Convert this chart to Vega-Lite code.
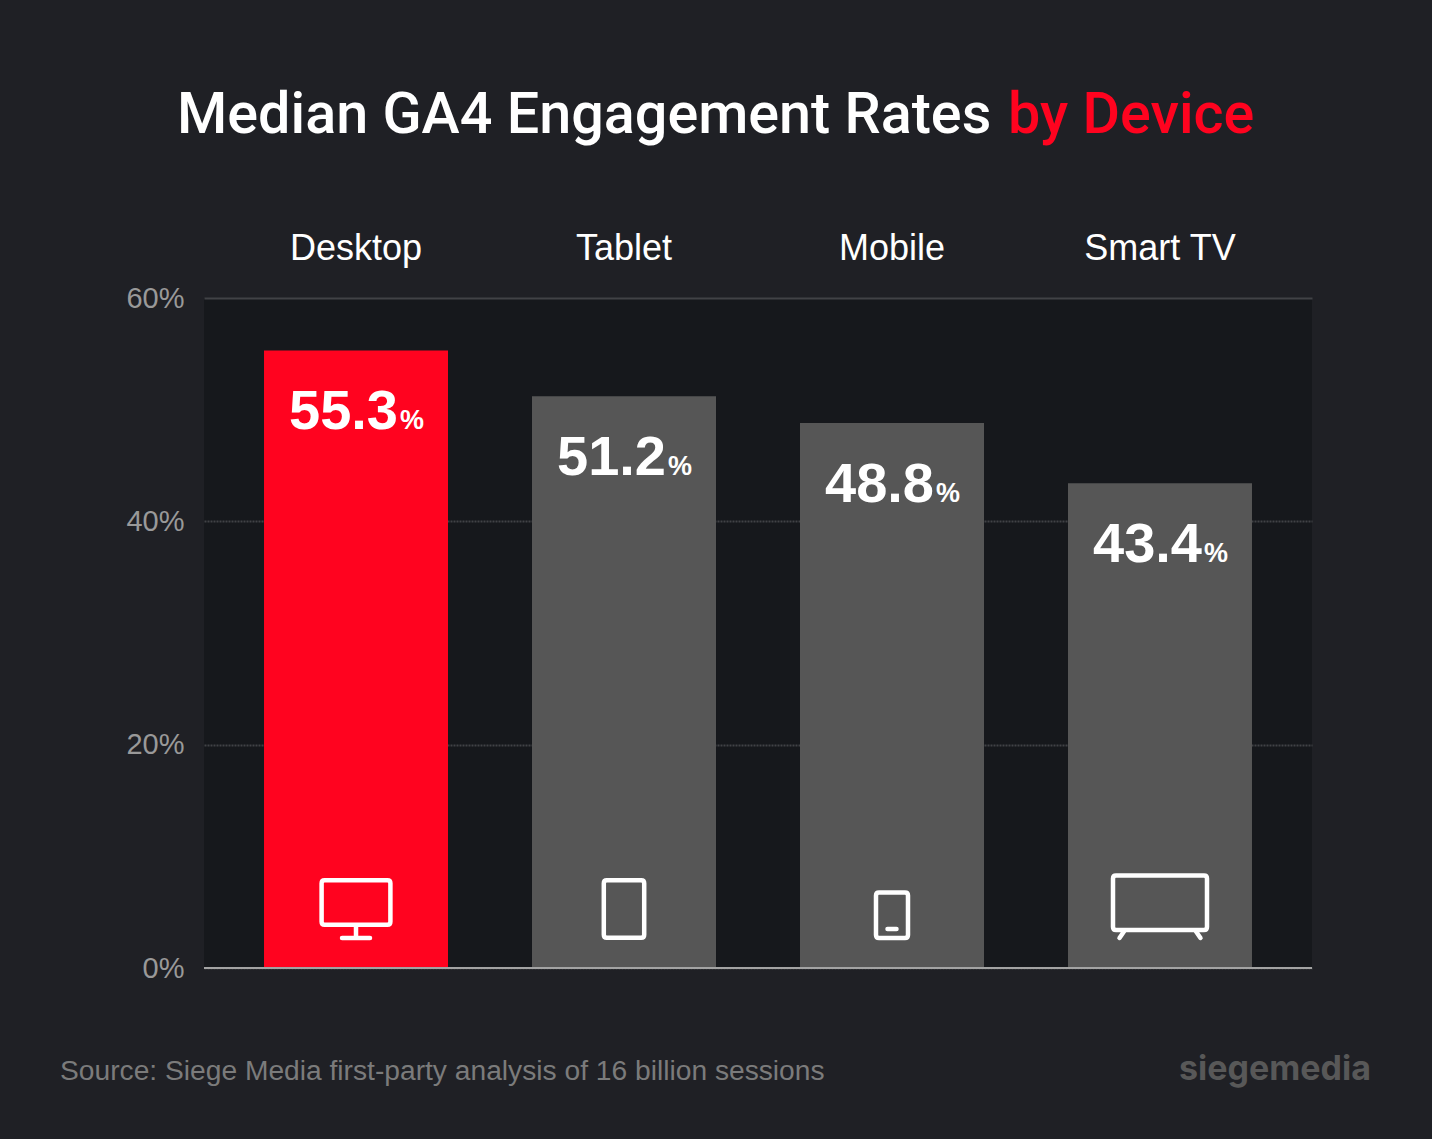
{
  "$schema": "https://vega.github.io/schema/vega-lite/v6.json",
  "width": 1108,
  "height": 670,
  "autosize": {"type": "none"},
  "padding": {"left": 204, "top": 298, "right": 120, "bottom": 171},
  "background": "#1f2025",
  "view": {"fill": "#16181c", "stroke": null},
  "config": {"font": "Liberation Sans"},
  "datasets": {
    "devices": [
      {"device": "Desktop", "rate": 55.3, "label": "55.3", "unit": "%"},
      {"device": "Tablet", "rate": 51.2, "label": "51.2", "unit": "%"},
      {"device": "Mobile", "rate": 48.8, "label": "48.8", "unit": "%"},
      {"device": "Smart TV", "rate": 43.4, "label": "43.4", "unit": "%"}
    ]
  },
  "layer": [
    {
      "data": {"name": "devices"},
      "mark": {"type": "bar"},
      "encoding": {
        "x": {
          "field": "device",
          "type": "nominal",
          "sort": null,
          "title": null,
          "scale": {"domain": ["Desktop", "Tablet", "Mobile", "Smart TV"], "paddingInner": 0.3134, "paddingOuter": 0.2239},
          "axis": {"orient": "top", "domain": false, "ticks": false, "labelAngle": 0, "labelFontSize": 36, "labelColor": "#ffffff", "labelPadding": 31, "labelFont": "Liberation Sans"}
        },
        "y": {
          "field": "rate",
          "type": "quantitative",
          "title": null,
          "scale": {"domain": [0, 60], "nice": false},
          "axis": {
            "values": [0, 20, 40, 60],
            "labelExpr": "datum.value + '%'",
            "domain": false,
            "ticks": false,
            "labelFontSize": 29,
            "labelColor": "#999999",
            "labelPadding": 20,
            "grid": true,
            "gridColor": "#414246",
            "gridDash": {"condition": {"test": "datum.value == 60", "value": []}, "value": [2, 1]},
            "gridWidth": 2
          }
        },
        "color": {
          "field": "device",
          "type": "nominal",
          "legend": null,
          "scale": {"domain": ["Desktop", "Tablet", "Mobile", "Smart TV"], "range": ["#ff031f", "#565656", "#565656", "#565656"]}
        }
      }
    },
    {
      "data": {"values": [{"zero": 0}]},
      "mark": {"type": "rule", "color": "#a3a3a3", "strokeWidth": 2},
      "encoding": {"y": {"field": "zero", "type": "quantitative", "title": null}}
    },
    {
      "data": {"name": "devices"},
      "mark": {"type": "text", "font": "Liberation Sans", "fontWeight": "bold", "fontSize": 56, "color": "#ffffff", "align": "right", "baseline": "alphabetic", "dx": 42, "dy": 79},
      "encoding": {
        "x": {"field": "device", "type": "nominal", "sort": null, "title": null},
        "y": {"field": "rate", "type": "quantitative", "title": null},
        "text": {"field": "label"}
      }
    },
    {
      "data": {"name": "devices"},
      "mark": {"type": "text", "font": "Liberation Sans", "fontWeight": "bold", "fontSize": 27, "color": "#ffffff", "align": "left", "baseline": "alphabetic", "dx": 44, "dy": 79},
      "encoding": {
        "x": {"field": "device", "type": "nominal", "sort": null, "title": null},
        "y": {"field": "rate", "type": "quantitative", "title": null},
        "text": {"field": "unit"}
      }
    },
    {
      "data": {"name": "devices"},
      "mark": {"type": "point", "filled": false, "size": 4, "strokeWidth": 4.5, "opacity": 1, "color": "#ffffff", "strokeCap": "round"},
      "encoding": {
        "x": {"field": "device", "type": "nominal", "sort": null, "title": null},
        "y": {"datum": 0, "title": null},
        "shape": {
          "field": "device",
          "type": "nominal",
          "legend": null,
          "scale": {
            "domain": ["Desktop", "Tablet", "Mobile", "Smart TV"],
            "range": [
              "M-31.4,-87.7H31.4Q34.4,-87.7 34.4,-84.7V-46.3Q34.4,-43.3 31.4,-43.3H-31.4Q-34.4,-43.3 -34.4,-46.3V-84.7Q-34.4,-87.7 -31.4,-87.7ZM0,-43.3V-30M-14,-30H14",
              "M-17.2,-87.7H17.2Q20.2,-87.7 20.2,-84.7V-33.3Q20.2,-30.3 17.2,-30.3H-17.2Q-20.2,-30.3 -20.2,-33.3V-84.7Q-20.2,-87.7 -17.2,-87.7Z",
              "M-13,-75.4H13Q16,-75.4 16,-72.4V-33Q16,-30 13,-30H-13Q-16,-30 -16,-33V-72.4Q-16,-75.4 -13,-75.4ZM-4.5,-39H4.5",
              "M-44,-92.4H44Q47,-92.4 47,-89.4V-41Q47,-38 44,-38H-44Q-47,-38 -47,-41V-89.4Q-47,-92.4 -44,-92.4ZM-35,-38L-40.5,-30M35,-38L40.5,-30"
            ]
          }
        }
      }
    },
    {
      "data": {"values": [{"text": "Median GA4 Engagement Rates"}]},
      "mark": {"type": "text", "font": "Roboto", "fontWeight": 500, "fontSize": 57.5, "color": "#ffffff", "align": "left", "baseline": "middle", "dx": -179},
      "encoding": {
        "x": {"datum": "Desktop", "type": "nominal", "title": null},
        "y": {"datum": 76.27, "title": null},
        "text": {"field": "text"}
      }
    },
    {
      "data": {"values": [{"text": "by Device"}]},
      "mark": {"type": "text", "font": "Roboto", "fontWeight": 500, "fontSize": 57.5, "color": "#ff031f", "align": "left", "baseline": "middle", "dx": 116},
      "encoding": {
        "x": {"datum": "Mobile", "type": "nominal", "title": null},
        "y": {"datum": 76.27, "title": null},
        "text": {"field": "text"}
      }
    },
    {
      "data": {"values": [{"text": "Source: Siege Media first-party analysis of 16 billion sessions"}]},
      "mark": {"type": "text", "fontSize": 28.2, "color": "#7b7b7b", "align": "left", "baseline": "middle", "dx": -296},
      "encoding": {
        "x": {"datum": "Desktop", "type": "nominal", "title": null},
        "y": {"datum": -9.3, "title": null},
        "text": {"field": "text"}
      }
    },
    {
      "data": {"values": [{"text": "siegemedia"}]},
      "mark": {"type": "text", "font": "Inter", "fontWeight": "bold", "fontSize": 34, "color": "#585858", "align": "right", "baseline": "middle", "dx": 211},
      "encoding": {
        "x": {"datum": "Smart TV", "type": "nominal", "title": null},
        "y": {"datum": -9.1, "title": null},
        "text": {"field": "text"}
      }
    }
  ]
}
